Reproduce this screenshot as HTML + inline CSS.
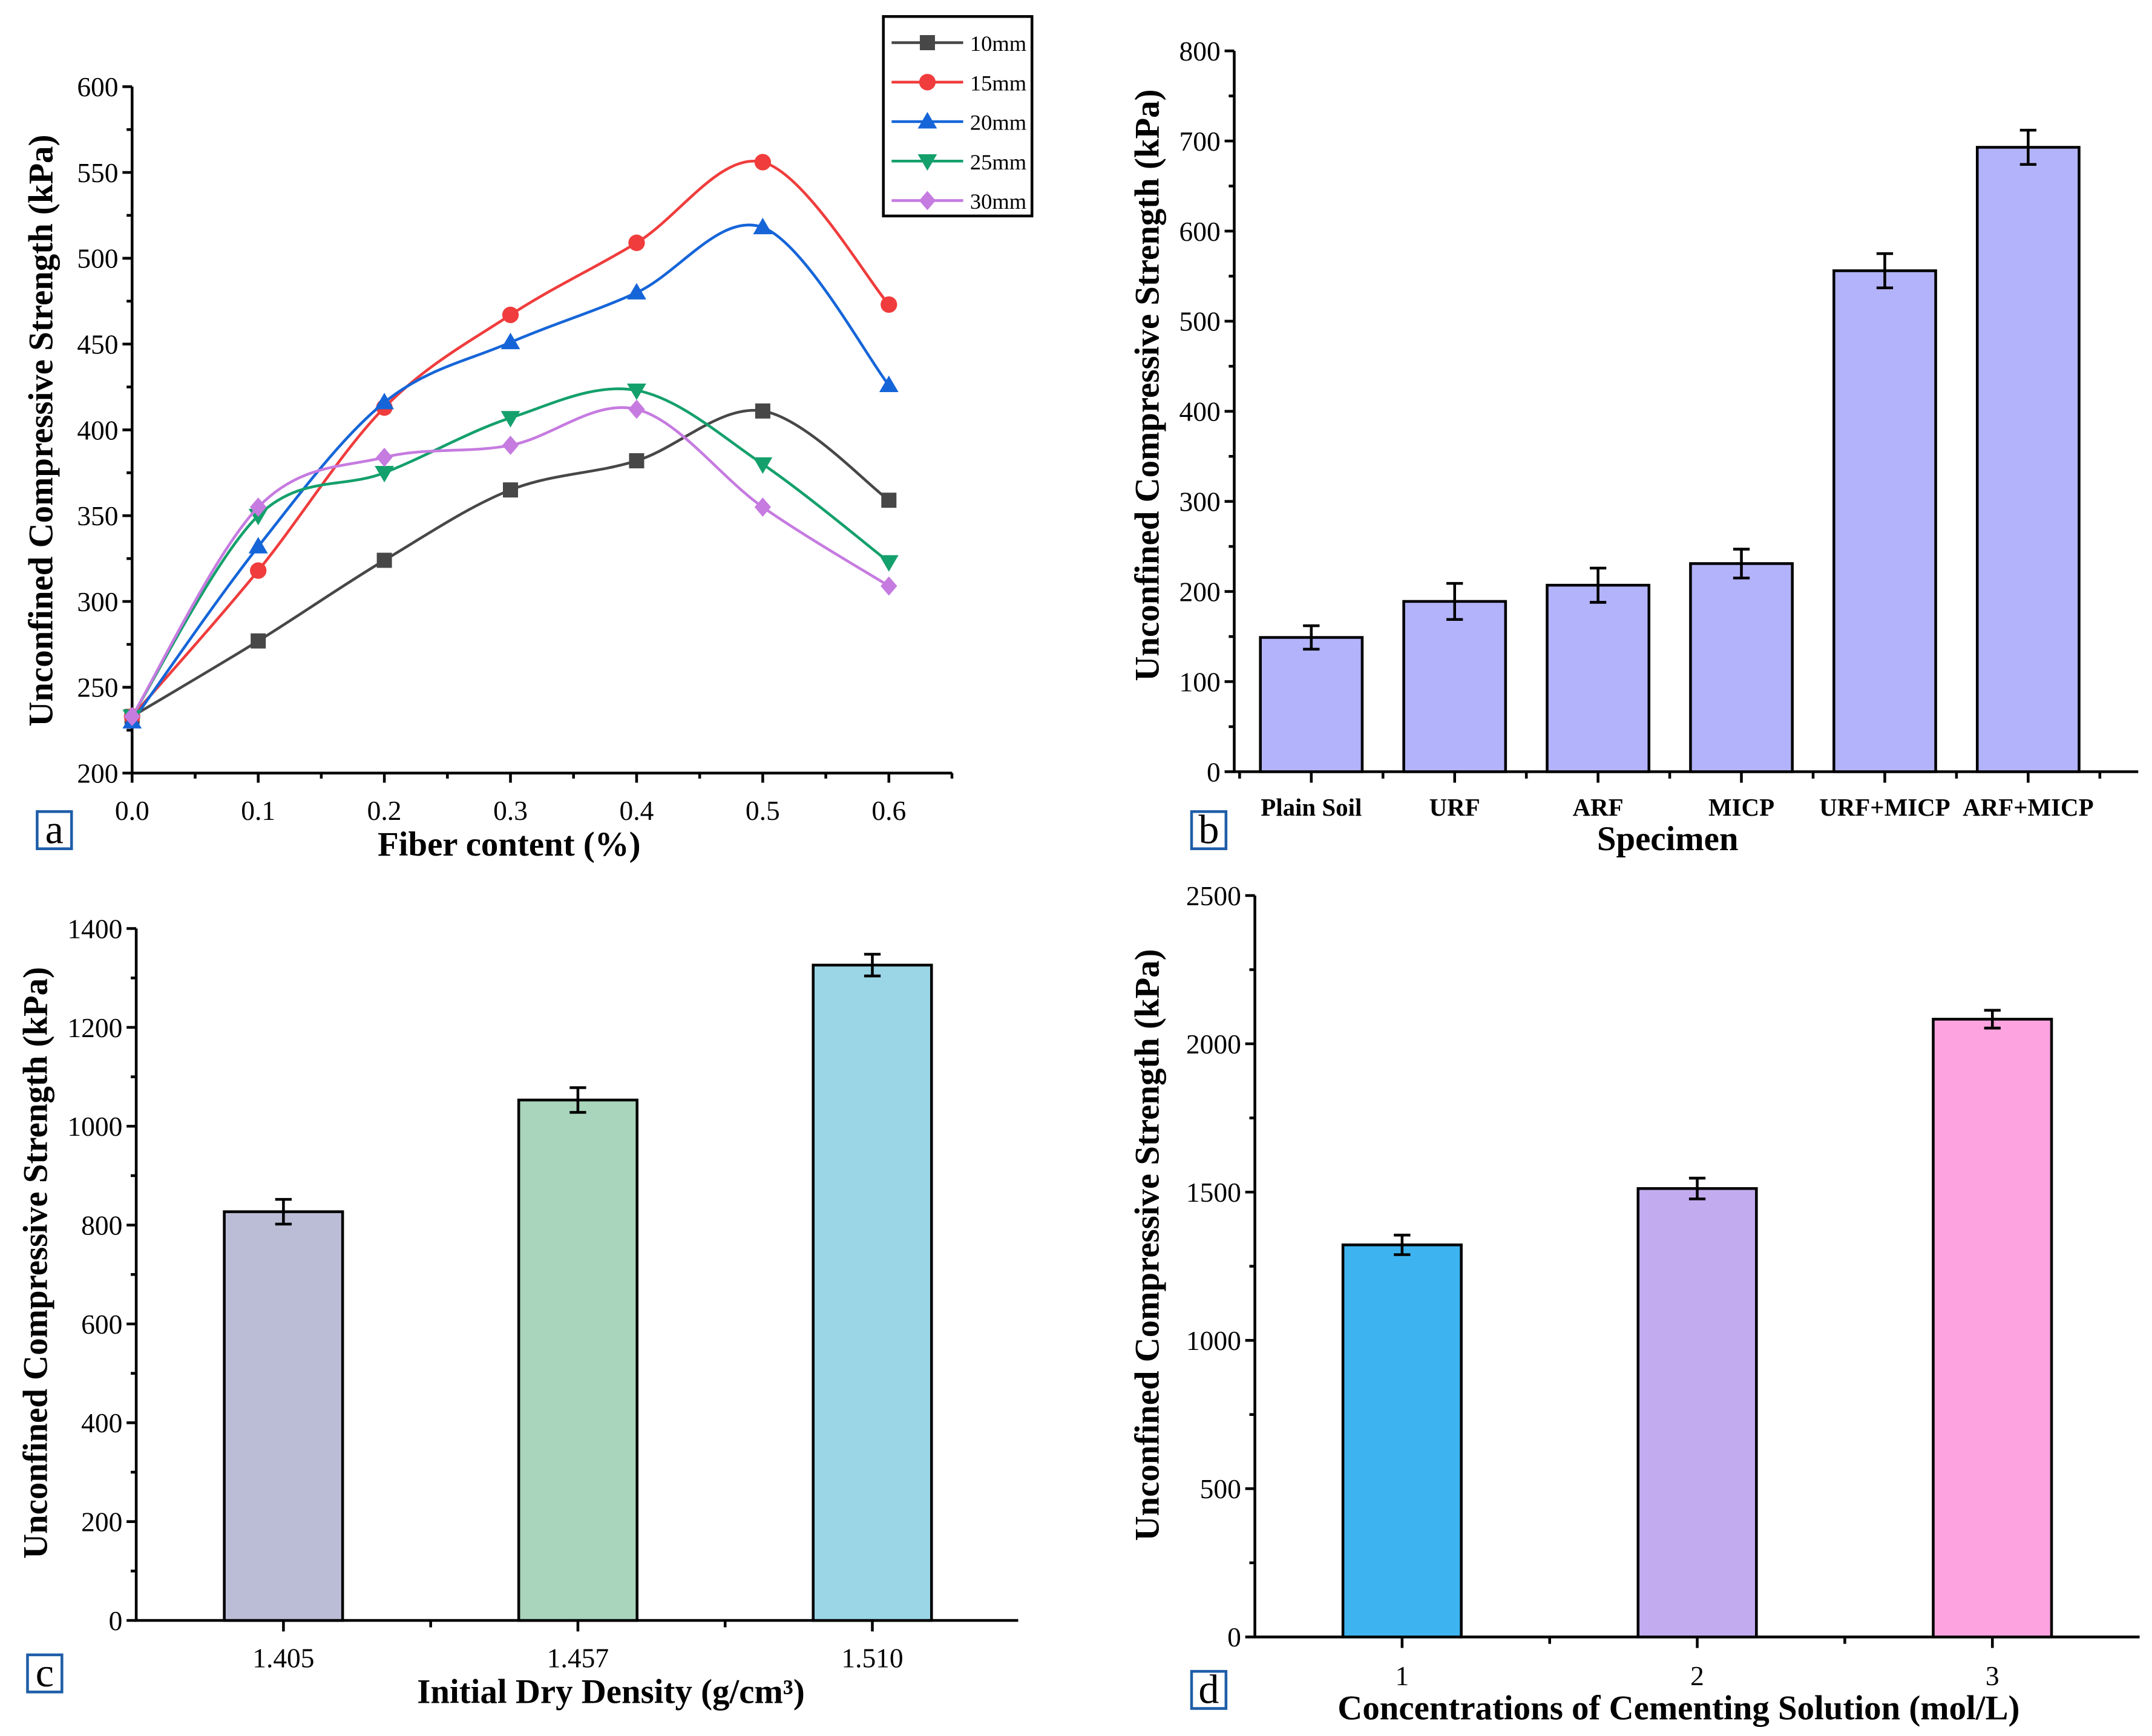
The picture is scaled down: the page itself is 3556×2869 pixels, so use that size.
<!DOCTYPE html>
<html><head><meta charset="utf-8"><style>
html,body{margin:0;padding:0;background:#fff;}
svg{display:block;}
text{font-family:"Liberation Serif",serif;fill:#000;}
.tk{font-size:20px;}
.ttl{font-size:25px;font-weight:bold;}
</style></head><body>
<svg id="fig" width="3556" height="2869" viewBox="0 0 1564 1262" preserveAspectRatio="none" xmlns="http://www.w3.org/2000/svg">
<rect width="1564" height="1262" fill="#fff"/>
</svg>
<script>
// Panel a data
const aX = [0,0.1,0.2,0.3,0.4,0.5,0.6];
const aNames = ['10mm','15mm','20mm','25mm','30mm'];
const a10 = [233,277,324,365,382,411,359];
const a15 = [233,318,413,467,509,556,473];
const a20 = [230,332,416,451,480,518,426];
const a25 = [233,350,375,407,423,380,323];
const a30 = [233,355,384,391,412,355,309];
const aYTicks = [200,250,300,350,400,450,500,550,600];
const aXTicks = ['0.0','0.1','0.2','0.3','0.4','0.5','0.6'];
// Panel b data
const bCats = ['Plain Soil','URF','ARF','MICP','URF+MICP','ARF+MICP'];
const bVals = [149,189,207,231,556,693];
const bErr = [13,20,19,16,19,19];
const bYTicks = [0,100,200,300,400,500,600,700,800];
// Panel c data
const cCats = ['1.405','1.457','1.510'];
const cVals = [827,1053,1326];
const cErr = [25,25,22];
const cYTicks = [0,200,400,600,800,1000,1200,1400];
// Panel d data
const dCats = ['1','2','3'];
const dVals = [1322,1512,2083];
const dErr = [33,35,30];
const dYTicks = [0,500,1000,1500,2000,2500];

const NS='http://www.w3.org/2000/svg';
const svg=document.getElementById('fig');
function mk(tag,attrs,parent,txt){const e=document.createElementNS(NS,tag);for(const k in attrs)e.setAttribute(k,attrs[k]);if(txt!==undefined)e.textContent=txt;(parent||svg).appendChild(e);return e;}

function axes(g,x0,x1,y0,y1){
  const l=mk('line',{x1:x0,y1:y0,x2:x0,y2:y1,stroke:'#000','stroke-width':2},g);
  
  
  const b=mk('line',{x1:x0-1,y1:y0,x2:x1,y2:y0,stroke:'#000','stroke-width':2},g);
  
  
}
function yAxis(g,ticks,sy,x0,minor){
  ticks.forEach((t,i)=>{
    const y=sy(t);
    mk('line',{x1:x0-7,y1:y,x2:x0,y2:y,stroke:'#000','stroke-width':2},g);
    const tx=mk('text',{x:x0-10,y:y+7,'text-anchor':'end',class:'tk'},g,String(t));
    
    
    if(i<ticks.length-1&&minor){const ym=sy((t+ticks[i+1])/2);mk('line',{x1:x0-4,y1:ym,x2:x0,y2:ym,stroke:'#000','stroke-width':2},g);}
  });
}
function panelLabel(x,y,ch){
  const g=mk('g',{});
  
  
  mk('rect',{x:x,y:y,width:25,height:27,fill:'none',stroke:'#1f5ea8','stroke-width':2},g);
  mk('text',{x:x+12.5,y:y+23,'text-anchor':'middle','font-size':30},g,ch);
}
function yTitle(g,x,yc){
  const t=mk('text',{x:0,y:0,'text-anchor':'middle',class:'ttl',transform:`translate(${x},${yc}) rotate(-90)`},g,'Unconfined Compressive Strength (kPa)');
  
  
}
function xTitle(g,x,y,s){
  const t=mk('text',{x:x,y:y,'text-anchor':'middle',class:'ttl'},g,s);
  
  
}

// ---------- Panel a ----------
(function(){
  const g=mk('g',{});
  
  
  const X0=96,Y0=562,Y1=63;
  const sx=v=>X0+v*(646-96)/0.6;
  const sy=v=>Y0-(v-200)*(Y0-Y1)/400;
  axes(g,X0,692,Y0,Y1);
  yAxis(g,aYTicks,sy,X0,true);
  aXTicks.forEach((t,i)=>{
    const x=sx(aX[i]);
    mk('line',{x1:x,y1:Y0,x2:x,y2:Y0+7,stroke:'#000','stroke-width':2},g);
    const xm=sx(aX[i]+0.05);
    if(xm<692) mk('line',{x1:xm,y1:Y0,x2:xm,y2:Y0+4,stroke:'#000','stroke-width':2},g);
    const tx=mk('text',{x:x,y:Y0+34,'text-anchor':'middle',class:'tk'},g,t);
    
    
  });
  yTitle(g,38,313);
  xTitle(g,370,622,'Fiber content (%)');
  const series=[a10,a15,a20,a25,a30];
  const colors=['#474747','#f03c3c','#1565d8','#14a06c','#c67be0'];
  function marker(par,shape,x,y,c){
    if(shape===0) return mk('rect',{x:x-5.5,y:y-5.5,width:11,height:11,fill:c},par);
    if(shape===1) return mk('circle',{cx:x,cy:y,r:6,fill:c},par);
    if(shape===2) return mk('polygon',{points:`${x},${y-7} ${x+7},${y+5} ${x-7},${y+5}`,fill:c},par);
    if(shape===3) return mk('polygon',{points:`${x},${y+7} ${x+7},${y-5} ${x-7},${y-5}`,fill:c},par);
    return mk('polygon',{points:`${x},${y-7} ${x+6},${y} ${x},${y+7} ${x-6},${y}`,fill:c},par);
  }
  series.forEach((s,si)=>{
    const sg=mk('g',{},g);
    
    
    const P=s.map((v,i)=>[sx(aX[i]),sy(v)]);
    let d=`M${P[0][0]},${P[0][1]}`;
    for(let i=0;i<P.length-1;i++){
      const p0=P[Math.max(0,i-1)],p1=P[i],p2=P[i+1],p3=P[Math.min(P.length-1,i+2)];
      const c1=[p1[0]+(p2[0]-p0[0])/6,p1[1]+(p2[1]-p0[1])/6];
      const c2=[p2[0]-(p3[0]-p1[0])/6,p2[1]-(p3[1]-p1[1])/6];
      d+=` C${c1[0]},${c1[1]} ${c2[0]},${c2[1]} ${p2[0]},${p2[1]}`;
    }
    const ln=mk('path',{d:d,fill:'none',stroke:colors[si],'stroke-width':2},sg);
    
    
    P.forEach(p=>{
      const m=marker(sg,si,p[0],p[1],colors[si]);
      
      
    });
  });
  const lg=mk('g',{},g);
  
  
  mk('rect',{x:642,y:12,width:108,height:145,fill:'#fff',stroke:'#000','stroke-width':2},lg);
  aNames.forEach((n,i)=>{
    const y=31+i*28.7;
    const e=mk('g',{},lg);
    
    
    mk('line',{x1:648,y1:y,x2:700,y2:y,stroke:colors[i],'stroke-width':2},e);
    marker(e,i,674,y,colors[i]);
    mk('text',{x:705,y:y+6,'font-size':16,textLength:41,lengthAdjust:'spacingAndGlyphs'},e,n);
  });
  panelLabel(27,590,'a');
})();

// ---------- bar panel helper ----------
function barPanel(name,cats,vals,errs,yt,X0,X1,Y0,Ymax,ymaxv,cx0,step,bw,fills,tkFont,tkY,titleX,titleY,xt,xtX,xtY,lab){
  const g=mk('g',{});
  
  
  const sy=v=>Y0-v*(Y0-Ymax)/ymaxv;
  const cx=i=>cx0+i*step;
  axes(g,X0,X1,Y0,Ymax);
  yAxis(g,yt,sy,X0,true);
  cats.forEach((c,i)=>{
    const x=cx(i);
    const bar=mk('rect',{x:x-bw/2,y:sy(vals[i]),width:bw,height:Y0-sy(vals[i]),fill:fills[i%fills.length],stroke:'#000','stroke-width':2},g);
    
    
    const eb=mk('path',{d:`M${x},${sy(vals[i]+errs[i])}V${sy(vals[i]-errs[i])}M${x-6},${sy(vals[i]+errs[i])}H${x+6}M${x-6},${sy(vals[i]-errs[i])}H${x+6}`,stroke:'#000','stroke-width':2,fill:'none'},g);
    
    
    mk('line',{x1:x,y1:Y0,x2:x,y2:Y0+8,stroke:'#000','stroke-width':2},g);
    const tx=mk('text',{x:x,y:Y0+tkY,'text-anchor':'middle',style:tkFont},g,c);
    
    
  });
  for(let i=0;i<=cats.length;i++){const x=cx(i)-step/2;if(x>X0&&x<X1)mk('line',{x1:x,y1:Y0,x2:x,y2:Y0+5,stroke:'#000','stroke-width':2},g);}
  yTitle(g,titleX,titleY);
  xTitle(g,xtX,xtY,xt);
  panelLabel(lab[0],lab[1],lab[2]);
}
barPanel('panel-b-bar-chart',bCats,bVals,bErr,bYTicks,897,1554,561,37,800,953,104.2,74,['#b3b3fb'],'font-size:18px;font-weight:bold',32,842,280,'Specimen',1212,618,[866,590,'b']);
barPanel('panel-c-bar-chart',cCats,cVals,cErr,cYTicks,99,740,1178,675,1400,206,214,86,['#bbbcd6','#a8d5bb','#9ad6e6'],'font-size:20px',34,34,918,'Initial Dry Density (g/cm³)',444,1238,[20,1203,'c']);
barPanel('panel-d-bar-chart',dCats,dVals,dErr,dYTicks,912,1555,1190,651,2500,1019,214.5,86,['#3db4f0','#c3abf0','#fda3df'],'font-size:20px',35,842,905,'Concentrations of Cementing Solution (mol/L)',1220,1250,[866,1215,'d']);
</script>
</body></html>
